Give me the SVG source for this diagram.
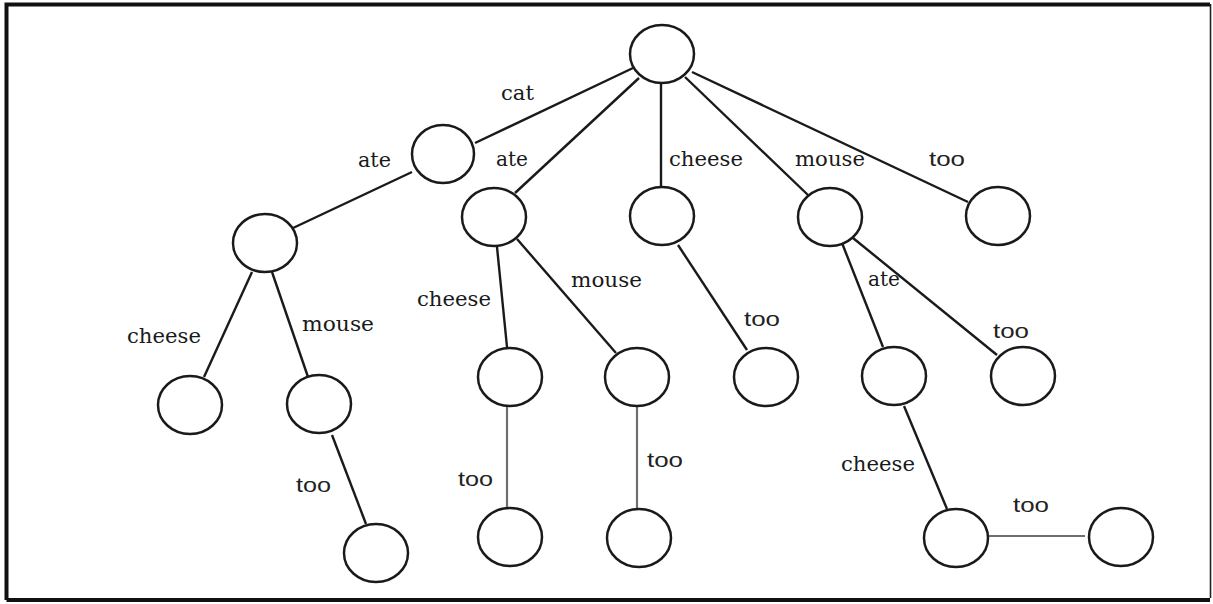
<svg xmlns="http://www.w3.org/2000/svg" width="1213" height="604" viewBox="0 0 1213 604">
  <style>
    .node { fill: #ffffff; stroke: #1a1a1a; stroke-width: 2.5; }
    .edge { stroke: #1a1a1a; stroke-width: 2.4; fill: none; }
    .edge.light { stroke: #6e6e6e; stroke-width: 2.2; }
    .lbl { font-family: 'DejaVu Serif', 'Liberation Serif', serif; font-size: 21px; fill: #1a1a1a; }
    .sans { font-family: 'Liberation Sans', 'DejaVu Sans', sans-serif; font-size: 20px; fill: #222222; }
  </style>

  <rect x="0" y="0" width="1213" height="604" fill="#ffffff"/>
  <!-- frame -->
  <path d="M6.5,600 L6.5,4.5 L1210,4.5" fill="none" stroke="#111" stroke-width="4"/>
  <path d="M6.5,600 L1210,600" fill="none" stroke="#111" stroke-width="4"/>
  <path d="M1210.5,4 L1210.5,598" fill="none" stroke="#222" stroke-width="1.6"/>

  <g id="connectors">
    <line class="edge" x1="633" y1="68" x2="475" y2="143"/>
    <line class="edge" x1="639" y1="78" x2="515" y2="193"/>
    <line class="edge" x1="661" y1="83" x2="661" y2="187"/>
    <line class="edge" x1="685" y1="77" x2="808" y2="195"/>
    <line class="edge" x1="692" y1="72" x2="968" y2="202"/>
    <line class="edge" x1="412" y1="172" x2="293" y2="228"/>
    <line class="edge" x1="252" y1="272" x2="204" y2="377"/>
    <line class="edge" x1="272" y1="272" x2="308" y2="377"/>
    <line class="edge" x1="332" y1="435" x2="366" y2="524"/>
    <line class="edge" x1="497" y1="247" x2="507" y2="347"/>
    <line class="edge" x1="517" y1="239" x2="616" y2="353"/>
    <line class="edge" x1="678" y1="245" x2="747" y2="350"/>
    <line class="edge" x1="842" y1="243" x2="883" y2="347"/>
    <line class="edge" x1="853" y1="238" x2="997" y2="355"/>
    <line class="edge light" x1="507" y1="406" x2="507" y2="507"/>
    <line class="edge light" x1="637" y1="406" x2="637" y2="509"/>
    <line class="edge" x1="904" y1="406" x2="947" y2="509"/>
    <line class="edge light" x1="988" y1="536" x2="1085" y2="536"/>
  </g>

  <g id="labels">
    <text class="lbl" x="501" y="100" textLength="33" lengthAdjust="spacingAndGlyphs">cat</text>
    <text class="lbl" x="358" y="167" textLength="33" lengthAdjust="spacingAndGlyphs">ate</text>
    <text class="lbl" x="496" y="166" textLength="32" lengthAdjust="spacingAndGlyphs">ate</text>
    <text class="lbl" x="669" y="166" textLength="74" lengthAdjust="spacingAndGlyphs">cheese</text>
    <text class="lbl" x="795" y="166" textLength="70" lengthAdjust="spacingAndGlyphs">mouse</text>
    <text class="sans" x="929" y="166" textLength="36" lengthAdjust="spacingAndGlyphs">too</text>
    <text class="lbl" x="127" y="343" textLength="74" lengthAdjust="spacingAndGlyphs">cheese</text>
    <text class="lbl" x="302" y="331" textLength="72" lengthAdjust="spacingAndGlyphs">mouse</text>
    <text class="sans" x="296" y="492" textLength="35" lengthAdjust="spacingAndGlyphs">too</text>
    <text class="lbl" x="417" y="306" textLength="74" lengthAdjust="spacingAndGlyphs">cheese</text>
    <text class="lbl" x="571" y="287" textLength="71" lengthAdjust="spacingAndGlyphs">mouse</text>
    <text class="sans" x="744" y="326" textLength="36" lengthAdjust="spacingAndGlyphs">too</text>
    <text class="sans" x="458" y="486" textLength="35" lengthAdjust="spacingAndGlyphs">too</text>
    <text class="sans" x="647" y="467" textLength="36" lengthAdjust="spacingAndGlyphs">too</text>
    <text class="lbl" x="868" y="286" textLength="32" lengthAdjust="spacingAndGlyphs">ate</text>
    <text class="sans" x="993" y="338" textLength="36" lengthAdjust="spacingAndGlyphs">too</text>
    <text class="lbl" x="841" y="471" textLength="74" lengthAdjust="spacingAndGlyphs">cheese</text>
    <text class="sans" x="1013" y="512" textLength="36" lengthAdjust="spacingAndGlyphs">too</text>
  </g>

  <g id="n-root"><ellipse class="node" cx="662" cy="54" rx="32" ry="29"/></g>
  <g id="n-cat"><ellipse class="node" cx="443" cy="154" rx="31" ry="29"/></g>
  <g id="n-ate"><ellipse class="node" cx="494" cy="217" rx="32" ry="29"/></g>
  <g id="n-cheese"><ellipse class="node" cx="662" cy="216" rx="32" ry="29"/></g>
  <g id="n-mouse"><ellipse class="node" cx="830" cy="217" rx="32" ry="29"/></g>
  <g id="n-too"><ellipse class="node" cx="998" cy="216" rx="32" ry="29"/></g>
  <g id="n-cat-ate"><ellipse class="node" cx="265" cy="243" rx="32" ry="29"/></g>
  <g id="n-cat-ate-cheese"><ellipse class="node" cx="190" cy="405" rx="32" ry="29"/></g>
  <g id="n-cat-ate-mouse"><ellipse class="node" cx="319" cy="404" rx="32" ry="29"/></g>
  <g id="n-cat-ate-mouse-too"><ellipse class="node" cx="376" cy="553" rx="32" ry="29"/></g>
  <g id="n-ate-cheese"><ellipse class="node" cx="510" cy="377" rx="32" ry="29"/></g>
  <g id="n-ate-mouse"><ellipse class="node" cx="637" cy="377" rx="32" ry="29"/></g>
  <g id="n-cheese-too"><ellipse class="node" cx="766" cy="377" rx="32" ry="29"/></g>
  <g id="n-ate-cheese-too"><ellipse class="node" cx="510" cy="537" rx="32" ry="29"/></g>
  <g id="n-ate-mouse-too"><ellipse class="node" cx="639" cy="538" rx="32" ry="29"/></g>
  <g id="n-mouse-ate"><ellipse class="node" cx="894" cy="376" rx="32" ry="29"/></g>
  <g id="n-mouse-too"><ellipse class="node" cx="1023" cy="376" rx="32" ry="29"/></g>
  <g id="n-mouse-ate-cheese"><ellipse class="node" cx="956" cy="538" rx="32" ry="29"/></g>
  <g id="n-mouse-ate-cheese-too"><ellipse class="node" cx="1121" cy="537" rx="32" ry="29"/></g>
</svg>
